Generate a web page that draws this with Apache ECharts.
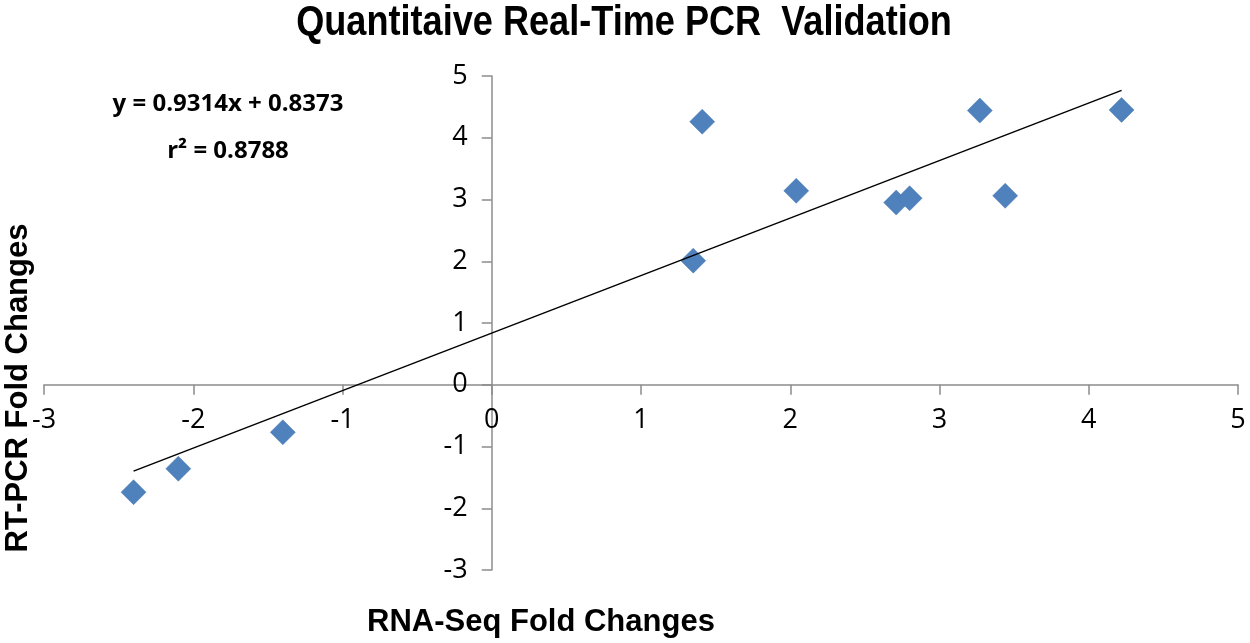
<!DOCTYPE html>
<html>
<head>
<meta charset="utf-8">
<script src="https://cdn.jsdelivr.net/npm/echarts@6/dist/echarts.min.js"></script>
<style>html,body{margin:0;padding:0;background:#fff;}#c{width:1250px;height:643px;}</style>
</head>
<body>
<div id="c"></div>
<script>
// Data
const rnaSeqFold = [-2.40, -2.10, -1.40, 1.35, 1.41, 2.04, 2.71, 2.80, 3.27, 3.44, 4.22];
const rtPcrFold  = [-1.74, -1.36, -0.77, 2.01, 4.26, 3.14, 2.95, 3.02, 4.44, 3.06, 4.45];
const trendCoef = [0.9314, 0.8373]; // slope, intercept
const rSquared = 0.8788;
const xTicks = [-3, -2, -1, 0, 1, 2, 3, 4, 5];
const yTicks = [-3, -2, -1, 0, 1, 2, 3, 4, 5];
const titleText = 'Quantitaive Real-Time PCR  Validation';
const xName = 'RNA-Seq Fold Changes';
const yName = 'RT-PCR Fold Changes';

const points = rnaSeqFold.map((x, i) => [x, rtPcrFold[i]]);
const xMin = Math.min(...rnaSeqFold), xMax = Math.max(...rnaSeqFold);
const trend = [xMin, xMax].map(x => [x, trendCoef[0] * x + trendCoef[1]]);

const W = 1250, H = 643;
const grid = { left: 44, right: 12, top: 76, bottom: 73 };
const gridW = W - grid.left - grid.right, gridH = H - grid.top - grid.bottom;
const xLo = xTicks[0], xHi = xTicks[xTicks.length - 1];
const yLo = yTicks[0], yHi = yTicks[yTicks.length - 1];
// move axes (with labels) to cross at zero
const xAxisOffset = -((0 - yLo) / (yHi - yLo)) * gridH;
const yAxisOffset = -((0 - xLo) / (xHi - xLo)) * gridW;

const axisGray = '#8c8c8c';
const labelFont = '"Open Sans", "Liberation Sans", sans-serif';
const boldFont = '"Liberation Sans", Arial, sans-serif';

const chart = echarts.init(document.getElementById('c'));
chart.setOption({
  backgroundColor: '#fff',
  animation: false,
  grid: grid,
  xAxis: {
    type: 'value', min: xLo, max: xHi, interval: 1, offset: xAxisOffset,
    axisLine: { onZero: false, lineStyle: { color: axisGray, width: 1.5 } },
    axisTick: { show: true, length: 10, lineStyle: { color: axisGray, width: 1.5 } },
    axisLabel: { margin: 22, fontFamily: labelFont, fontSize: 27, color: '#000' },
    splitLine: { show: false }
  },
  yAxis: {
    type: 'value', min: yLo, max: yHi, interval: 1, offset: yAxisOffset,
    axisLine: { show: true, onZero: false, lineStyle: { color: axisGray, width: 1.5 } },
    axisTick: { show: true, length: 10, lineStyle: { color: axisGray, width: 1.5 } },
    axisLabel: { margin: 24, fontFamily: labelFont, fontSize: 27, color: '#000' },
    splitLine: { show: false }
  },
  graphic: [
    { type: 'text', x: 624, y: 23, scaleX: 0.86, style: { text: titleText, textAlign: 'center', textVerticalAlign: 'middle', fontFamily: boldFont, fontWeight: 'bold', fontSize: 42, fill: '#000' } },
    { type: 'text', x: 367, y: 622, style: { text: xName, textAlign: 'left', textVerticalAlign: 'middle', fontFamily: boldFont, fontWeight: 'bold', fontSize: 31, fill: '#000' } },
    { type: 'text', x: 18, y: 388, rotation: Math.PI / 2, style: { text: yName, textAlign: 'center', textVerticalAlign: 'middle', fontFamily: boldFont, fontWeight: 'bold', fontSize: 31, fill: '#000' } },
    { type: 'text', x: 228, y: 104, style: { text: 'y = ' + trendCoef[0] + 'x + ' + trendCoef[1], textAlign: 'center', textVerticalAlign: 'middle', fontFamily: labelFont, fontWeight: 'bold', fontSize: 24, fill: '#000' } },
    { type: 'text', x: 228, y: 151, style: { text: 'r\u00B2 = ' + rSquared, textAlign: 'center', textVerticalAlign: 'middle', fontFamily: labelFont, fontWeight: 'bold', fontSize: 24, fill: '#000' } }
  ],
  series: [
    {
      type: 'line', data: trend, showSymbol: false, symbol: 'none',
      lineStyle: { color: '#000', width: 1.5 }, z: 3, silent: true
    },
    {
      type: 'scatter', data: points,
      symbol: 'path://M0,-1L1,0L0,1L-1,0Z', symbolSize: 25,
      itemStyle: { color: '#4f81bd', opacity: 1, borderColor: '#4a7ab3', borderWidth: 0.5 }, z: 2
    }
  ]
});
</script>
</body>
</html>
